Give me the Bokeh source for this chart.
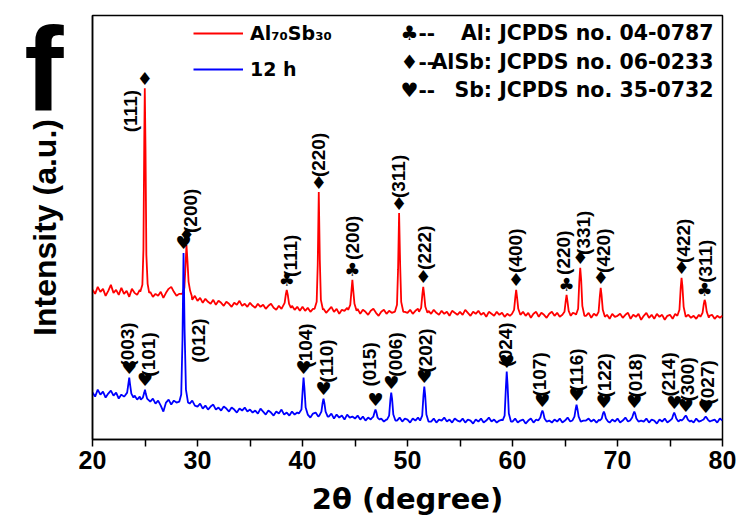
import numpy as np
from bokeh.plotting import figure
from bokeh.models import Range1d, Label, Legend, LegendItem, FixedTicker, ColumnDataSource
from bokeh.core.properties import value
from bokeh.embed import file_html
from bokeh.resources import INLINE

# ---------------- data (intensity in arbitrary units) ----------------
grid_2theta = [round(20 + 0.25 * i, 2) for i in range(241)]

red_background = [
    150, 146, 153, 148, 151, 144, 149, 155, 147, 150, 145, 152, 146, 149, 143, 151, 147, 145, 150, 146,
    147, 145, 148, 143, 146, 144, 148, 142, 147, 151, 153, 148, 144, 146, 141, 145, 146, 143, 140, 144,
    139, 142, 137, 141, 138, 136, 140, 135, 139, 137, 134, 138, 136, 133, 137, 135, 139, 134, 136, 133,
    137, 134, 132, 136, 133, 135, 131, 134, 136, 132, 130, 134, 131, 135, 133, 133, 134, 130, 133, 129,
    133, 129, 132, 128, 131, 134, 130, 130, 131, 127, 130, 133, 128, 131, 126, 130, 129, 132, 130, 130,
    129, 131, 126, 130, 128, 125, 129, 131, 127, 124, 128, 130, 126, 129, 127, 128, 128, 128, 128, 128,
    127, 130, 126, 129, 131, 126, 128, 128, 129, 126, 130, 127, 125, 129, 126, 128, 124, 129, 127, 125,
    128, 125, 130, 127, 124, 128, 126, 129, 125, 127, 123, 128, 126, 124, 128, 125, 127, 123, 126, 124,
    126, 126, 126, 126, 128, 124, 127, 122, 126, 128, 123, 127, 125, 122, 126, 128, 124, 127, 123, 126,
    125, 125, 125, 127, 126, 126, 126, 126, 124, 127, 122, 126, 126, 126, 126, 126, 125, 121, 126, 123,
    124, 126, 122, 125, 127, 121, 125, 123, 126, 120, 124, 127, 122, 125, 121, 126, 123, 125, 120, 124,
    125, 121, 126, 124, 125, 125, 125, 125, 122, 124, 121, 125, 124, 124, 124, 124, 125, 121, 124, 122,
    124,
]

blue_background = [
    47, 43, 50, 45, 48, 42, 46, 49, 44, 47, 41, 45, 43, 44, 44, 44, 44, 40, 43, 40,
    40, 40, 38, 41, 36, 39, 34, 28, 37, 40, 35, 39, 37, 38, 38, 38, 38, 36, 39, 34,
    33, 36, 31, 34, 30, 33, 35, 30, 32, 29, 33, 31, 28, 32, 30, 27, 31, 29, 32, 28,
    30, 27, 29, 26, 31, 28, 25, 29, 27, 24, 28, 26, 30, 25, 27, 24, 28, 25, 27, 27,
    25, 25, 25, 22, 26, 27, 23, 25, 25, 25, 23, 26, 21, 25, 22, 24, 20, 25, 22, 23,
    21, 24, 20, 23, 19, 22, 20, 20, 20, 20, 21, 18, 20, 20, 20, 20, 19, 22, 18, 21,
    20, 17, 21, 19, 22, 20, 20, 20, 20, 18, 21, 17, 20, 19, 22, 18, 20, 17, 21, 19,
    18, 21, 17, 20, 19, 16, 20, 18, 21, 17, 19, 22, 18, 20, 17, 19, 20, 20, 20, 20,
    18, 21, 17, 19, 20, 16, 19, 21, 17, 20, 18, 19, 19, 19, 19, 17, 20, 18, 21, 17,
    19, 22, 18, 20, 17, 19, 19, 19, 19, 21, 18, 20, 17, 20, 20, 20, 20, 17, 20, 18,
    21, 17, 19, 22, 18, 20, 19, 19, 19, 19, 18, 21, 17, 20, 19, 16, 20, 18, 21, 17,
    19, 19, 19, 19, 20, 19, 19, 19, 19, 17, 21, 18, 19, 19, 19, 19, 19, 20, 17, 21,
    19,
]

# red (Al70Sb30) peak profiles
red_peaks_x = [
    [24.55, 24.75, 24.85, 24.93, 24.98, 25.05, 25.13, 25.25, 25.4],
    [28.55, 28.75, 28.85, 28.95, 29.05, 29.15, 29.3, 29.45],
    [38.1, 38.3, 38.42, 38.5, 38.6, 38.72, 38.9],
    [41.15, 41.35, 41.45, 41.55, 41.65, 41.75, 41.95],
    [44.35, 44.55, 44.67, 44.75, 44.83, 44.95, 45.15],
    [48.8, 49.0, 49.1, 49.2, 49.3, 49.4, 49.6],
    [51.1, 51.3, 51.42, 51.5, 51.58, 51.7, 51.9],
    [59.95, 60.15, 60.27, 60.35, 60.43, 60.55, 60.75],
    [64.75, 64.95, 65.07, 65.15, 65.23, 65.35, 65.55],
    [66.05, 66.25, 66.36, 66.45, 66.54, 66.65, 66.85],
    [68.0, 68.2, 68.32, 68.4, 68.48, 68.6, 68.8],
    [75.7, 75.9, 76.02, 76.1, 76.18, 76.3, 76.5],
    [77.9, 78.1, 78.22, 78.3, 78.38, 78.5, 78.7],
]
red_peaks_y = [
    [148, 155, 190, 300, 352, 290, 185, 156, 147],
    [146, 152, 172, 195, 178, 158, 149, 144],
    [133, 137, 146, 150, 145, 136, 132],
    [131, 138, 175, 248, 180, 140, 130],
    [130, 135, 150, 160, 150, 136, 129],
    [128, 135, 170, 227, 175, 138, 128],
    [128, 132, 146, 153, 146, 133, 127],
    [126, 130, 143, 150, 143, 131, 125],
    [125, 128, 139, 145, 139, 129, 124],
    [125, 131, 158, 172, 160, 134, 124],
    [124, 128, 144, 152, 145, 130, 123],
    [124, 130, 152, 162, 154, 133, 123],
    [123, 127, 136, 140, 137, 128, 122],
]

# blue (12 h) peak profiles
blue_peaks_x = [
    [23.1, 23.3, 23.42, 23.5, 23.58, 23.7, 23.9],
    [24.6, 24.8, 24.93, 25.0, 25.07, 25.2, 25.4],
    [28.27, 28.45, 28.57, 28.67, 28.77, 28.9, 29.1],
    [39.65, 39.9, 40.02, 40.1, 40.18, 40.3, 40.5],
    [41.6, 41.8, 41.92, 42.0, 42.08, 42.2, 42.4],
    [46.55, 46.75, 46.88, 46.95, 47.02, 47.15, 47.35],
    [48.05, 48.25, 48.37, 48.45, 48.53, 48.65, 48.85],
    [51.2, 51.4, 51.52, 51.6, 51.68, 51.8, 52.0],
    [59.05, 59.25, 59.37, 59.45, 59.53, 59.65, 59.85],
    [62.45, 62.65, 62.77, 62.85, 62.93, 63.05, 63.25],
    [65.7, 65.9, 66.02, 66.1, 66.18, 66.3, 66.5],
    [68.3, 68.5, 68.62, 68.7, 68.78, 68.9, 69.1],
    [71.2, 71.4, 71.52, 71.6, 71.68, 71.8, 72.0],
    [75.0, 75.2, 75.32, 75.4, 75.48, 75.6, 75.8],
    [76.1, 76.3, 76.42, 76.5, 76.58, 76.7, 76.9],
    [78.0, 78.2, 78.32, 78.4, 78.48, 78.6, 78.8],
]
blue_peaks_y = [
    [44, 47, 56, 62, 55, 46, 42],
    [40, 42, 47, 50, 46, 41, 39],
    [38, 45, 100, 187, 110, 50, 37],
    [26, 30, 50, 62, 52, 32, 25],
    [24, 28, 37, 41, 37, 28, 23],
    [21, 23, 28, 30, 28, 22, 20],
    [20, 24, 40, 47, 41, 25, 19],
    [19, 24, 44, 53, 45, 25, 18],
    [19, 24, 52, 68, 55, 26, 18],
    [19, 22, 27, 29, 27, 21, 18],
    [19, 23, 31, 35, 31, 23, 18],
    [19, 21, 26, 28, 26, 21, 18],
    [19, 22, 26, 28, 26, 21, 18],
    [19, 21, 25, 27, 25, 21, 18],
    [19, 21, 23, 24, 23, 20, 18],
    [19, 20, 22, 23, 22, 20, 18],
]

# peak indexing
red_hkl = ["(111)", "(200)", "(111)", "(220)", "(200)", "(311)", "(222)",
           "(400)", "(220)", "(331)", "(420)", "(422)", "(311)"]
red_phase = ["AlSb", "AlSb", "Al", "AlSb", "Al", "AlSb", "AlSb",
             "AlSb", "Al", "AlSb", "AlSb", "AlSb", "Al"]
red_label_x = [23.62, 29.33, 38.86, 41.52, 44.76, 49.14, 51.62,
               60.29, 64.86, 66.76, 68.67, 76.29, 78.38]
red_label_y = [308, 207, 163, 263, 180, 242, 170, 167, 165, 185, 167, 177, 157]

blue_hkl = ["(003)", "(101)", "(012)", "(104)", "(110)", "(015)", "(006)", "(202)",
            "(024)", "(107)", "(116)", "(122)", "(018)", "(214)", "(300)", "(027)"]
blue_label_x = [23.33, 25.33, 30.1, 40.29, 42.29, 46.38, 48.86, 51.71,
                59.33, 62.57, 66.1, 68.76, 71.71, 74.86, 76.67, 78.57]
blue_label_y = [73, 63, 77, 72, 57, 53, 63, 67, 73, 43, 48, 42, 42, 43, 38, 35]

phase_symbol = {"Al": "\u2663", "AlSb": "\u2666", "Sb": "\u2665"}
reference_cards = [("\u2663--", "Al: JCPDS no. 04-0787"),
                   ("\u2666--", "AlSb: JCPDS no. 06-0233"),
                   ("\u2665--", "Sb: JCPDS no. 35-0732")]
x_ticks = [20, 30, 40, 50, 60, 70, 80]
x_minor = [25, 35, 45, 55, 65, 75]
panel_letter = "f"
panel_letter_level = 371   # height on the intensity scale where the panel letter sits


def build_pattern(grid, background, peaks_x, peaks_y):
    centers = [px[int(np.argmax(py))] for px, py in zip(peaks_x, peaks_y)]
    pts = [(x, y) for x, y in zip(grid, background)
           if all(abs(x - c) >= 0.45 for c in centers)]
    for px, py in zip(peaks_x, peaks_y):
        pts += list(zip(px, py))
    pts.sort()
    return [p[0] for p in pts], [p[1] for p in pts], centers


red_x, red_y, red_centers = build_pattern(grid_2theta, red_background, red_peaks_x, red_peaks_y)
blue_x, blue_y, blue_centers = build_pattern(grid_2theta, blue_background, blue_peaks_x, blue_peaks_y)
red_apex = [max(py) for py in red_peaks_y]
blue_apex = [max(py) for py in blue_peaks_y]

# ---------------- figure ----------------
p = figure(width=742, height=518, output_backend="svg", toolbar_location=None,
           x_range=Range1d(20, 80), y_range=Range1d(0, 425),
           min_border_left=92, min_border_right=20, min_border_top=15, min_border_bottom=78)
p.background_fill_color = "white"
p.border_fill_color = "white"
p.xgrid.visible = False
p.ygrid.visible = False
p.outline_line_color = "black"
p.outline_line_width = 1.5

LIB = value("Liberation Sans")
DJV = value("DejaVu Sans")

r_red = p.line(red_x, red_y, line_color="#FF0000", line_width=1.8)
r_blue = p.line(blue_x, blue_y, line_color="#0000FF", line_width=1.8)

# markers above peaks
red_src = ColumnDataSource(dict(x=red_centers, y=red_apex,
                                s=[phase_symbol[ph] for ph in red_phase]))
p.text(x="x", y="y", text="s", source=red_src, y_offset=-10, text_align="center",
       text_baseline="middle", text_font=DJV, text_font_size="18px", text_color="black")
blue_src = ColumnDataSource(dict(x=blue_centers, y=blue_apex,
                                 s=[phase_symbol["Sb"]] * len(blue_centers)))
p.text(x="x", y="y", text="s", source=blue_src, y_offset=-10, text_align="center",
       text_baseline="middle", text_font=DJV, text_font_size="18px", text_color="black")

# rotated hkl labels
for lx, ly, t in ((red_label_x, red_label_y, red_hkl), (blue_label_x, blue_label_y, blue_hkl)):
    p.text(x=lx, y=ly, text=t, angle=np.pi / 2, text_align="left", text_baseline="middle",
           text_font=LIB, text_font_style="bold", text_font_size="19px", text_color="black")

# x axis
p.xaxis.ticker = FixedTicker(ticks=x_ticks, minor_ticks=x_minor)
p.xaxis.axis_label = "2\u03b8 (degree)"
p.xaxis.axis_label_text_font = "DejaVu Sans"
p.xaxis.axis_label_text_font_style = "bold"
p.xaxis.axis_label_text_font_size = "29px"
p.xaxis.axis_label_text_color = "black"
p.xaxis.axis_label_standoff = 10
p.xaxis.major_label_text_font = "Liberation Sans"
p.xaxis.major_label_text_font_style = "bold"
p.xaxis.major_label_text_font_size = "25px"
p.xaxis.major_label_text_color = "black"
p.xaxis.major_label_standoff = 4
p.xaxis.major_tick_out = 7
p.xaxis.major_tick_in = 0
p.xaxis.minor_tick_out = 7
p.xaxis.minor_tick_in = 0
p.xaxis.axis_line_width = 1.5
p.xaxis.major_tick_line_width = 1.5
p.xaxis.minor_tick_line_width = 1.5

# y axis: no numeric ticks; the panel letter is carried as its single tick label
p.yaxis.ticker = FixedTicker(ticks=[panel_letter_level])
p.yaxis.major_label_overrides = {panel_letter_level: panel_letter}
p.yaxis.major_label_orientation = "horizontal"
p.yaxis.major_label_text_font = "Liberation Sans"
p.yaxis.major_label_text_font_style = "bold"
p.yaxis.major_label_text_font_size = "118px"
p.yaxis.major_label_text_color = "black"
p.yaxis.major_label_standoff = 29
p.yaxis.major_tick_out = 0
p.yaxis.major_tick_in = 0
p.yaxis.major_tick_line_color = None
p.yaxis.minor_tick_out = 0
p.yaxis.minor_tick_in = 0
p.yaxis.minor_tick_line_color = None
p.yaxis.axis_label = "Intensity (a.u.)"
p.yaxis.axis_label_text_font = "Liberation Sans"
p.yaxis.axis_label_text_font_style = "bold"
p.yaxis.axis_label_text_font_size = "32px"
p.yaxis.axis_label_text_color = "black"
p.yaxis.axis_label_standoff = -42
p.yaxis.axis_line_width = 1.5

# legend
legend = Legend(items=[LegendItem(label="Al\u2087\u2080Sb\u2083\u2080", renderers=[r_red]),
                       LegendItem(label="12 h", renderers=[r_blue])],
                location=(101, 358), padding=0, spacing=12, margin=0,
                glyph_width=50, glyph_height=24, label_height=24, label_standoff=7,
                border_line_color=None, background_fill_alpha=0,
                label_text_font="DejaVu Sans", label_text_font_style="bold",
                label_text_font_size="19px", label_text_color="black")
p.add_layout(legend)

# reference card key
for (sym, txt), yy in zip(reference_cards, [407, 378, 350]):
    p.add_layout(Label(x=49.33, y=yy, text=sym, text_align="left", text_baseline="middle",
                       text_font="DejaVu Sans", text_font_style="bold",
                       text_font_size="20px", text_color="black"))
    p.add_layout(Label(x=79.14, y=yy, text=txt, text_align="right", text_baseline="middle",
                       text_font="DejaVu Sans", text_font_style="bold",
                       text_font_size="20.5px", text_color="black"))

open("out.html", "w").write(file_html(p, INLINE))
